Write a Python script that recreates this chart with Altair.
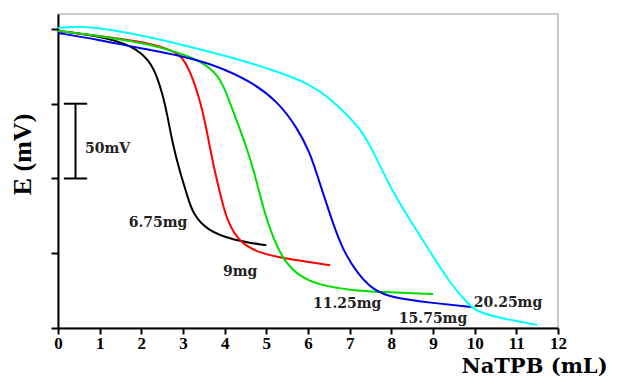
import altair as alt
import pandas as pd

# ---- data ----
series = ["6.75mg", "9mg", "11.25mg", "15.75mg", "20.25mg"]
colors = ["#000000", "#ff0000", "#00dd00", "#0000ee", "#00ffff"]

x_675 = [0.0, 1.0, 1.8, 2.2, 2.38, 2.52, 2.62, 2.76, 2.93, 3.1, 3.24, 3.58, 4.2, 5.0]
y_675 = [198.7, 195.3, 188.7, 178.7, 168, 155.3, 143, 122, 104, 88.7, 76, 65.3, 58.7, 55.3]

x_9 = [0.0, 1.0, 2.2, 2.76, 3.0, 3.24, 3.48, 3.65, 3.77, 3.89, 4.06, 4.37, 4.85, 5.4, 6.05, 6.53]
y_9 = [198.7, 195.3, 190.7, 185.3, 181, 167.3, 145.3, 120, 104, 90, 71, 56.7, 50, 46.7, 44, 42]

x_1125 = [0.0, 1.0, 2.2, 2.98, 3.41, 3.82, 4.0, 4.2, 4.54, 4.73, 4.9, 5.09, 5.4, 5.81, 6.29, 7.0, 7.8, 9.0]
y_1125 = [198.7, 195.3, 190, 183.3, 178.7, 170, 160, 145.3, 120, 102, 83, 65.3, 45.3, 34, 28.7, 25.3, 24, 22.7]

x_1575 = [0.0, 1.0, 1.8, 2.98, 3.82, 4.6, 5.26, 5.74, 6.05, 6.2, 6.41, 6.6, 6.84, 7.18, 7.56, 8.04, 9.0, 9.96]
y_1575 = [197.3, 192.7, 188, 182, 175.3, 165.3, 152, 134, 117, 104, 86, 70, 52, 36.7, 25.3, 20, 16.7, 14]

x_2025 = [0.0, 0.53, 1.49, 2.62, 4.2, 5.09, 6.05, 6.6, 7.25, 7.56, 7.97, 8.45, 8.93, 9.41, 9.82, 10.06, 10.61, 11.5]
y_2025 = [200.7, 202, 198.7, 192, 180.7, 173.3, 163.3, 152, 134, 118.7, 94, 72, 51, 30, 16.7, 10.7, 6.7, 2]

label_text = ["6.75mg", "9mg", "11.25mg", "15.75mg", "20.25mg", "50mV"]
label_x = [2.40, 4.37, 6.94, 9.0, 10.8, 1.19]
label_y = [70, 37.3, 16, 6, 16.7, 120]

# 50 mV scale bar
bar_x = [0.42]
bar_y = [100]
bar_y2 = [150]
cap_x = [0.14]
cap_x2 = [0.70]
cap_y = [100, 150]

x_ticks = [i / 2 for i in range(25)]
y_ticks = list(range(0, 201, 25))

# ---- tables ----
rows = []
for name, xs, ys in zip(series, [x_675, x_9, x_1125, x_1575, x_2025],
                        [y_675, y_9, y_1125, y_1575, y_2025]):
    for i, (xv, yv) in enumerate(zip(xs, ys)):
        rows.append({"series": name, "x": xv, "y": yv, "order": i})
df = pd.DataFrame(rows)
df_lab = pd.DataFrame({"x": label_x, "y": label_y, "label": label_text})
df_bar = pd.DataFrame({"x": bar_x, "y": bar_y, "y2": bar_y2})
df_cap = pd.DataFrame({"x": cap_x * 2, "x2": cap_x2 * 2, "y": cap_y})

x_scale = alt.Scale(domain=[0, 12], nice=False, zero=False)
y_scale = alt.Scale(domain=[0, 210], nice=False, zero=False)

x_axis = alt.Axis(
    values=x_ticks, title="NaTPB (mL)", grid=False,
    domainColor="black", domainWidth=2, tickColor="black", tickWidth=2,
    tickSize={"condition": {"test": "datum.value % 1 === 0", "value": 6}, "value": 3},
    labelExpr="datum.value % 1 === 0 ? format(datum.value, 'd') : ''",
    labelFont="Liberation Serif", labelFontWeight="bold", labelFontSize=17,
    labelColor="black", labelPadding=1, labelOverlap=False, labelFlush=False,
    titleFont="DejaVu Serif", titleFontWeight="bold", titleFontSize=21,
    titleColor="black", titleX=476, titleY=38, titleAlign="center",
    titleBaseline="middle", titleLimit=300,
)
y_axis = alt.Axis(
    values=y_ticks, title="E (mV)", grid=False, labels=False,
    domainColor="black", domainWidth=2, tickColor="black", tickWidth=2,
    tickSize={"condition": {"test": "datum.value % 50 === 0", "value": 7}, "value": 4},
    titleFont="Liberation Serif", titleFontWeight="bold", titleFontSize=26,
    titleColor="black", titleX=-36, titleY=140, titleAngle=270,
    titleAlign="center", titleBaseline="middle", titleLimit=200,
)

lines = alt.Chart(df).mark_line(strokeWidth=2, interpolate="basis").encode(
    x=alt.X("x:Q", scale=x_scale, axis=x_axis),
    y=alt.Y("y:Q", scale=y_scale, axis=y_axis),
    color=alt.Color("series:N", scale=alt.Scale(domain=series, range=colors), legend=None),
    order="order:Q",
)

labels = alt.Chart(df_lab).mark_text(
    font="DejaVu Serif", fontWeight="bold", fontSize=14, color="#222222",
    align="center", baseline="middle",
).encode(x="x:Q", y="y:Q", text="label:N")

bar = alt.Chart(df_bar).mark_rule(color="black", strokeWidth=2).encode(
    x="x:Q", y="y:Q", y2="y2:Q")
caps = alt.Chart(df_cap).mark_rule(color="black", strokeWidth=2).encode(
    x="x:Q", x2="x2:Q", y="y:Q")

chart = alt.layer(lines, bar, caps, labels).properties(
    width=500, height=314, autosize="none",
    padding={"left": 50, "top": 6, "right": 52, "bottom": 50},
).configure_view(stroke="#bbbbbb", strokeWidth=1.5)

chart.save("out.html", embed_options={"renderer": "svg", "actions": False})
